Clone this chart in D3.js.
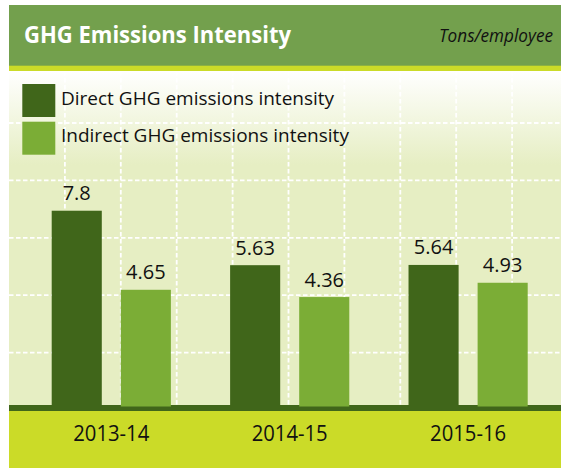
<!DOCTYPE html>
<html>
<head>
<meta charset="utf-8">
<script src="https://cdn.jsdelivr.net/npm/d3@7"></script>
<style>
	body { margin: 0; background: #fff; }
	svg { display: block; font-family: "Open Sans", sans-serif; }
</style>
</head>
<body>
<svg width="561" height="468"></svg>
<script>
// chart values
var years = ['2013-14', '2014-15', '2015-16'];
var series = ['Direct GHG emissions intensity', 'Indirect GHG emissions intensity'];
var direct = [7.8, 5.63, 5.64];
var indirect = [4.65, 4.36, 4.93];
var valueLabels = [['7.8', '5.63', '5.64'], ['4.65', '4.36', '4.93']];

var svg = d3.select("svg"),
	width = +svg.attr("width"),
	height = +svg.attr("height");

var left = 9;
var colors = ['#40661a', '#7bad36'];

// background gradient for the plot area
var defs = svg.append("defs");
var grad = defs.append("linearGradient")
	.attr("id", "bg")
	.attr("x1", 0).attr("y1", 0).attr("x2", 0).attr("y2", 1);
grad.append("stop").attr("offset", "0%").attr("stop-color", "#ffffff");
grad.append("stop").attr("offset", "28%").attr("stop-color", "#e6eec3");
grad.append("stop").attr("offset", "100%").attr("stop-color", "#e6eec3");

svg.append("rect")
	.attr("x", left).attr("y", 71)
	.attr("width", width - left).attr("height", 406 - 71)
	.attr("fill", "url(#bg)");

// dashed grid
var grid = svg.append("g").attr("class", "grid")
	.attr("stroke", "#fff")
	.attr("stroke-width", 1.8)
	.attr("stroke-dasharray", "4.5,2.5");

grid.selectAll("line.h")
	.data(d3.range(5))
	.enter().append("line")
		.attr("class", "h")
		.attr("x1", left).attr("x2", width)
		.attr("y1", function(d) { return 123 + d * 57.4; })
		.attr("y2", function(d) { return 123 + d * 57.4; });

grid.selectAll("line.v")
	.data(d3.range(1, 10))
	.enter().append("line")
		.attr("class", "v")
		.attr("y1", 71).attr("y2", 405)
		.attr("x1", function(d) { return left + d * 55.9; })
		.attr("x2", function(d) { return left + d * 55.9; });

// header
svg.append("rect")
	.attr("x", left).attr("y", 5)
	.attr("width", width - left).attr("height", 61)
	.attr("fill", "#73a04d");
svg.append("rect")
	.attr("x", left).attr("y", 65.7)
	.attr("width", width - left).attr("height", 5.3)
	.attr("fill", "#cbdb28");

svg.append("text")
	.attr("x", 24).attr("y", 42.7)
	.attr("fill", "#fff")
	.attr("font-weight", "bold")
	.attr("font-size", 23.5)
	.attr("textLength", 267)
	.attr("lengthAdjust", "spacingAndGlyphs")
	.text("GHG Emissions Intensity");

svg.append("text")
	.attr("x", 439).attr("y", 41.7)
	.attr("font-style", "italic")
	.attr("font-size", 18.5)
	.attr("textLength", 114)
	.attr("lengthAdjust", "spacingAndGlyphs")
	.attr("fill", "#111")
	.text("Tons/employee");

// scales
var x0 = d3.scaleBand()
	.domain(years)
	.range([51.7, 527.7])
	.paddingInner(0.332)
	.paddingOuter(0);

var x1 = d3.scaleBand()
	.domain([0, 1])
	.range([0, x0.bandwidth()])
	.paddingInner(0.275)
	.paddingOuter(0);

var y = d3.scaleLinear()
	.domain([0, 8])
	.range([406.5, 205.7]);

// baseline and bottom band
svg.append("rect")
	.attr("x", left).attr("y", 405)
	.attr("width", width - left).attr("height", 6)
	.attr("fill", colors[0]);
svg.append("rect")
	.attr("x", left).attr("y", 411)
	.attr("width", width - left).attr("height", height - 411)
	.attr("fill", "#cbdb28");

// bars
var rows = years.map(function(yr, i) {
	return { year: yr, values: [direct[i], indirect[i]], labels: [valueLabels[0][i], valueLabels[1][i]] };
});

var group = svg.append("g").attr("class", "bars")
	.selectAll("g")
	.data(rows)
	.enter().append("g")
		.attr("transform", function(d) { return "translate(" + x0(d.year) + ",0)"; });

var cell = group.selectAll("g")
	.data(function(d) { return d.values.map(function(v, k) { return { k: k, v: v, label: d.labels[k] }; }); })
	.enter().append("g");

cell.append("rect")
	.attr("x", function(d) { return x1(d.k); })
	.attr("y", function(d) { return y(d.v); })
	.attr("width", x1.bandwidth())
	.attr("height", function(d) { return y(0) - y(d.v); })
	.attr("fill", function(d) { return colors[d.k]; });

cell.append("text")
	.attr("x", function(d) { return x1(d.k) + x1.bandwidth() / 2; })
	.attr("y", function(d) { return y(d.v) - 10.5; })
	.attr("text-anchor", "middle")
	.attr("font-size", 20)
	.attr("fill", "#111")
	.text(function(d) { return d.label; });

// category labels
svg.append("g").attr("class", "xlabels")
	.selectAll("text")
	.data(years)
	.enter().append("text")
		.attr("x", function(d) { return x0(d) + x0.bandwidth() / 2; })
		.attr("y", 441)
		.attr("text-anchor", "middle")
		.attr("font-size", 22)
		.attr("textLength", 76)
		.attr("lengthAdjust", "spacingAndGlyphs")
		.attr("fill", "#111")
		.text(function(d) { return d; });

// legend
var legend = svg.append("g").attr("class", "legend")
	.selectAll("g")
	.data(series)
	.enter().append("g")
		.attr("transform", function(d, i) { return "translate(22.3," + (84 + i * 37.7) + ")"; });

legend.append("rect")
	.attr("width", 33).attr("height", 33)
	.attr("fill", function(d, i) { return colors[i]; });

legend.append("text")
	.attr("x", 38.7).attr("y", 20.5)
	.attr("font-size", 19)
	.attr("fill", "#111")
	.text(function(d) { return d; });
</script>
</body>
</html>
